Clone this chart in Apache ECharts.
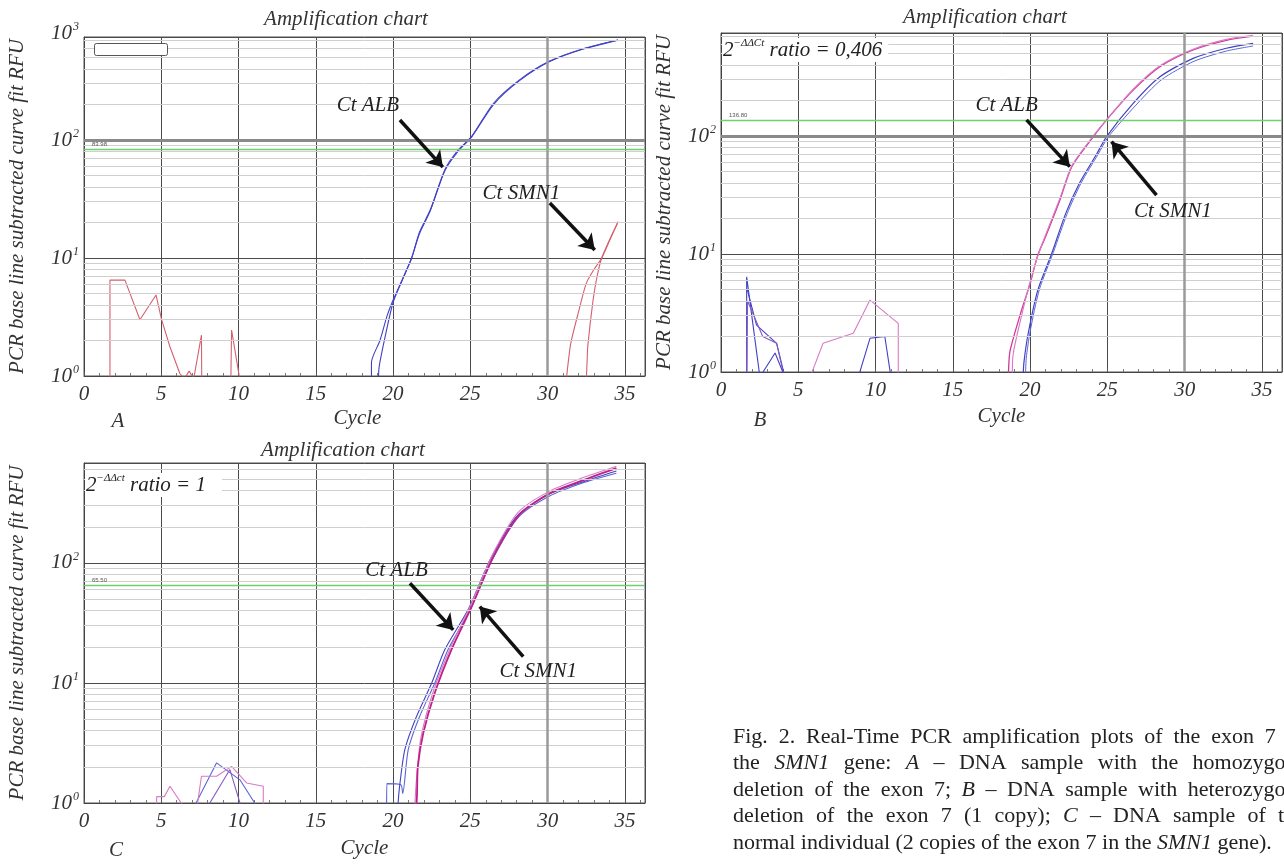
<!DOCTYPE html>
<html><head><meta charset="utf-8">
<script src="https://cdn.jsdelivr.net/npm/echarts@6/dist/echarts.min.js"></script>
<style>html,body{margin:0;padding:0;background:#fff}#c{width:1284px;height:864px}</style>
</head><body><div id="c"></div>
<script>
// ---------- data ----------
const xTicks = [0, 5, 10, 15, 20, 25, 30, 35];
const yTickExp = { 1: '0', 10: '1', 100: '2' };
const minorLevels = [2, 3, 4, 5, 6, 7, 8, 9, 20, 30, 40, 50, 60, 70, 80, 90, 200, 300, 400, 500, 600, 700];
const thresholdA = 83.98, thresholdB = 136.80, thresholdC = 65.50;
const yMaxA = 747, yMaxB = 747, yMaxC = 681;
const xMax = 36.3;

// Panel A – ALB (blue), SMN1 (red), background noise
const A_ALB1 = [[18.6,0.9],[18.6,1.3],[19.15,2.0],[19.6,3.2],[20.0,4.4],[20.6,6.6],[21.2,10],[21.7,16],[22.4,25],[23.35,55],[24.2,80],[25.1,107],[26.5,200],[28.2,320],[30.1,460],[32.3,590],[34.56,703]];
const A_ALB2 = [[19.05,0.9],[19.1,1.2],[19.5,2.2],[20.0,4.2],[20.6,6.5],[21.2,10],[21.7,16.5],[22.4,25.5],[23.35,56],[24.2,82],[25.1,108],[26.5,205],[28.2,325],[30.1,465],[32.3,595],[34.56,705]];
const A_SMN1a = [[31.2,0.9],[31.3,1.2],[31.5,1.9],[32.0,3.5],[32.5,6.1],[33.0,8.0],[33.5,10],[34.0,14],[34.56,20.3]];
const A_SMN1b = [[32.5,0.9],[32.55,1.3],[32.6,1.8],[32.94,4.4],[33.2,7],[33.5,10],[34.0,14.2],[34.56,20.3]];
const A_noise = [[1.68,0.9],[1.68,6.5],[2.65,6.5],[3.62,3.0],[4.66,4.86],[5.02,3.0],[5.56,1.77],[6.2,1.05],[6.5,0.95],[6.8,1.1],[7.1,0.95],[7.6,2.22],[7.62,0.9],[9.5,0.9],[9.55,2.45],[10.1,0.9]];

// Panel B – ALB (pink), SMN1 (blue), noise
const B_ALB1 = [[18.58,0.9],[18.6,1.0],[18.7,1.5],[19.45,3.35],[20.0,5.6],[20.5,9.8],[21.0,14],[21.9,28],[22.7,55],[24.0,95],[24.95,137],[26.67,245],[28.4,387],[30.55,537],[32.7,648],[34.43,703]];
const B_ALB2 = [[18.85,0.9],[18.9,1.4],[19.5,3.2],[20.0,5.8],[20.5,9.6],[21.0,14.5],[21.9,29],[22.7,56],[24.0,97],[24.95,138],[26.67,250],[28.4,395],[30.55,545],[32.7,660],[34.43,715]];
const B_SMN1a = [[19.55,0.9],[19.6,1.2],[19.88,2.13],[20.5,4.95],[21.4,10.1],[22.3,22],[23.2,40],[24.3,70],[24.95,99],[26.67,189],[28.4,318],[30.55,455],[32.7,555],[34.43,611]];
const B_SMN1b = [[19.7,0.9],[19.75,1.3],[20.0,2.2],[20.6,5.0],[21.5,10.3],[22.4,22],[23.3,40],[24.4,70],[25.05,98],[26.8,180],[28.5,300],[30.6,430],[32.7,525],[34.43,580]];
const B_noise1 = [[1.66,0.9],[1.66,6.4],[2.52,0.9]];
const B_noise2 = [[1.7,5.0],[2.3,2.5],[3.6,1.75],[4.14,0.9]];
const B_noise3 = [[1.68,0.9],[1.72,4.0],[2.7,2.0],[3.6,1.75],[4.1,0.9]];
const B_noise4 = [[2.5,0.9],[3.5,1.45],[4.14,0.9]];
const B_noisePink = [[5.76,0.9],[6.6,1.75],[8.56,2.13],[9.64,4.07],[11.47,2.58],[11.47,0.9]];
const B_noiseBlue = [[8.88,0.9],[9.64,1.93],[10.6,2.0],[11.0,0.9]];

// Panel C – ALB (magenta/pink), SMN1 (blue), noise
const C_ALB1 = [[21.5,0.9],[21.55,1.2],[21.6,2.0],[21.95,3.8],[22.7,8.3],[23.78,19],[25.08,43],[26.47,112],[28.2,255],[30.14,380],[32.5,500],[34.45,617]];
const C_ALB2 = [[21.4,0.9],[21.5,1.5],[21.8,3.5],[22.6,8.5],[23.7,19.5],[25.0,44],[26.4,115],[28.1,265],[30.1,395],[32.4,520],[34.45,640]];
const C_SMN1a = [[19.58,0.9],[19.6,1.45],[20.5,1.42],[20.62,1.2],[20.98,2.78],[21.7,5.2],[22.7,10],[23.56,19],[25.0,41],[26.4,105],[28.1,240],[30.1,360],[32.4,470],[34.45,560]];
const C_SMN1b = [[20.3,0.9],[20.4,1.3],[20.76,2.78],[21.5,5.2],[22.5,10],[23.35,19],[24.9,42],[26.3,108],[28.0,245],[30.0,370],[32.4,480],[34.45,585]];
const C_noise1 = [[4.7,0.9],[4.7,1.13],[5.2,1.13],[5.56,1.38],[6.53,0.9]];
const C_noise2 = [[7.07,0.9],[8.58,2.16],[10.09,1.56],[11.27,0.9]];
const C_noise3 = [[7.3,0.9],[7.6,1.67],[8.58,1.67],[9.55,2.02],[10.52,1.47],[11.6,1.38],[11.6,0.9]];
const C_noise4 = [[7.93,0.9],[9.44,1.9],[10.2,0.9]];

// annotation anchors (data coordinates)
const A_ann = { albText:[18.37,198], albFrom:[20.44,147.7], albTo:[23.22,59], smnText:[28.3,35.5], smnFrom:[30.14,29.3], smnTo:[33.05,11.7] };
const B_ann = { albText:[18.48,183], albFrom:[19.77,137], albTo:[22.57,55], smnText:[29.24,22.8], smnFrom:[28.18,31.6], smnTo:[25.27,89.5] };
const C_ann = { albText:[20.22,87.4], albFrom:[21.09,67.7], albTo:[23.89,27.7], smnText:[29.39,12.4], smnFrom:[28.42,16.6], smnTo:[25.61,43.3] };

const captionLines = [
  'Fig. 2. Real-Time PCR amplification plots of the exon 7 of',
  'the *SMN1* gene: *A* – DNA sample with the homozygous',
  'deletion of the exon 7; *B* – DNA sample with heterozygous',
  'deletion of the exon 7 (1 copy); *C* – DNA sample of the',
  'normal individual (2 copies of the exon 7 in the *SMN1* gene).'
];

// ---------- styling ----------
const SERIF = 'Liberation Serif, Times New Roman, serif';
const FS = 21;
const C_BLUE = '#4141c6', C_RED = '#d4606e', C_PINK = '#d2389a', C_MAG = '#c21e88', C_LPINK = '#d77ac6', C_BLUE2 = '#5a66d4';
const grids = [
  { left: 84, top: 37, width: 561, height: 339 },
  { left: 721, top: 33, width: 561, height: 339 },
  { left: 84, top: 463, width: 561, height: 340 }
];
const yMaxes = [yMaxA, yMaxB, yMaxC];
const yNameGaps = [56, 46, 56];
const xNameGaps = [32, 34, 35];
const xNamePads = [[0, 14, 0, 0], [0, 0, 0, 0], [0, 0, 0, 0]];
const supRich = {
  b: { fontFamily: SERIF, fontStyle: 'italic', fontSize: FS, color: '#333', fill: '#333', lineHeight: 24 },
  s: { fontFamily: SERIF, fontStyle: 'italic', fontSize: 12, color: '#333', fill: '#333', lineHeight: 24, verticalAlign: 'top', padding: [0, 0, 9, 1] }
};

function xAxisFor(i) {
  return {
    type: 'value', gridIndex: i, min: 0, max: xMax, interval: 5,
    name: 'Cycle', nameLocation: 'middle', nameGap: xNameGaps[i],
    nameTextStyle: { fontFamily: SERIF, fontStyle: 'italic', fontSize: FS, color: '#333', padding: xNamePads[i] },
    axisLine: { show: true, lineStyle: { color: '#444', width: 1 } },
    axisTick: { show: true, inside: true, length: 4, lineStyle: { color: '#555' } },
    minorTick: { show: true, splitNumber: 5, length: 3, lineStyle: { color: '#777' } },
    axisLabel: { fontFamily: SERIF, fontStyle: 'italic', fontSize: FS, color: '#333', margin: 8, showMaxLabel: false,
      formatter: v => xTicks.indexOf(v) >= 0 ? String(v) : '' },
    splitLine: { show: true, lineStyle: { color: '#4a4a4a', width: 1 } }
  };
}
function yAxisFor(i) {
  return {
    type: 'log', logBase: 10, gridIndex: i, min: 1, max: yMaxes[i],
    name: 'PCR base line subtracted curve fit RFU', nameLocation: 'middle', nameRotate: 90, nameGap: yNameGaps[i],
    nameTextStyle: { fontFamily: SERIF, fontStyle: 'italic', fontSize: FS, color: '#333' },
    axisLine: { show: true, lineStyle: { color: '#444' } },
    axisTick: { show: false },
    axisLabel: { margin: 5, showMaxLabel: false, rich: supRich,
      formatter: v => { const e = yTickExp[Math.round(v)]; return e ? '{b|10}{s|' + e + '}' : ''; } },
    splitLine: { show: true, lineStyle: { color: '#4a4a4a', width: 1 } }
  };
}

function line(data, color, i, width, smooth) {
  return { type: 'line', data: data, xAxisIndex: i, yAxisIndex: i, showSymbol: false, symbol: 'none', smooth: smooth || false,
    lineStyle: { color: color, width: width || 1.2 }, itemStyle: { color: color }, clip: true, z: 3, silent: true, animation: false };
}

function decor(i, threshold, thick100) {
  const minorData = minorLevels.filter(v => v < yMaxes[i]).map(v => ({ yAxis: v }));
  const extra = [{ xAxis: 30, lineStyle: { color: '#9a9a9a', width: 2.5 } }];
  if (thick100) extra.push({ yAxis: 100, lineStyle: { color: '#8a8a8a', width: 3 } });
  return [
    { type: 'line', data: [], xAxisIndex: i, yAxisIndex: i, z: 1, silent: true, animation: false,
      markLine: { silent: true, symbol: 'none', animation: false, label: { show: false },
        lineStyle: { color: '#cfcfcf', width: 1, type: 'solid' }, data: minorData.concat(extra) } },
    { type: 'line', data: [], xAxisIndex: i, yAxisIndex: i, z: 2, silent: true, animation: false,
      markLine: { silent: true, symbol: 'none', animation: false,
        lineStyle: { color: '#6fcf6f', width: 1.4, type: 'solid' },
        label: { show: true, position: 'insideStartTop', formatter: threshold.toFixed(2), fontSize: 6, color: '#555', distance: [8, 2] },
        data: [{ yAxis: threshold }] } }
  ];
}

function annotations(i, ann) {
  const lbl = { show: true, position: 'inside', fontFamily: SERIF, fontStyle: 'italic', fontSize: FS, color: '#222', formatter: '{b}' };
  return { type: 'line', data: [], xAxisIndex: i, yAxisIndex: i, z: 10, silent: true, animation: false,
    markLine: { silent: true, animation: false, symbol: ['none', 'arrow'], symbolSize: 15, label: { show: false },
      lineStyle: { color: '#111', width: 3.5, type: 'solid' },
      data: [[{ coord: ann.albFrom }, { coord: ann.albTo }], [{ coord: ann.smnFrom }, { coord: ann.smnTo }]] },
    markPoint: { silent: true, animation: false, symbol: 'circle', symbolSize: 1, itemStyle: { color: 'rgba(0,0,0,0)' }, label: lbl,
      data: [{ name: 'Ct ALB', coord: ann.albText }, { name: 'Ct SMN1', coord: ann.smnText }] } };
}

const SM = 0.25;
const series = [].concat(
  decor(0, thresholdA, true), decor(1, thresholdB, true), decor(2, thresholdC, false),
  [
    line(A_noise, C_RED, 0, 1.1), line(A_SMN1a, C_RED, 0, 1.1, SM), line(A_SMN1b, C_RED, 0, 1.1, SM),
    line(A_ALB1, C_BLUE, 0, 1.1, SM), line(A_ALB2, C_BLUE, 0, 1.1, SM),
    line(B_noise1, C_BLUE, 1, 1.1), line(B_noise2, C_BLUE, 1, 1.1), line(B_noise3, '#8a5ac0', 1, 1.1), line(B_noise4, C_BLUE, 1, 1.1),
    line(B_noisePink, C_LPINK, 1, 1.1), line(B_noiseBlue, C_BLUE, 1, 1.1),
    line(B_SMN1a, C_BLUE, 1, 1.2, SM), line(B_SMN1b, C_BLUE2, 1, 1.0, SM), line(B_ALB1, C_PINK, 1, 1.3, SM), line(B_ALB2, C_LPINK, 1, 1.1, SM),
    line(C_noise1, C_LPINK, 2, 1.1), line(C_noise2, C_BLUE2, 2, 1.1), line(C_noise3, C_LPINK, 2, 1.1), line(C_noise4, '#8a5ac0', 2, 1.1),
    line(C_SMN1a, C_BLUE2, 2, 1.1, SM), line(C_SMN1b, C_BLUE, 2, 1.1, SM), line(C_ALB2, C_LPINK, 2, 1.1, SM), line(C_ALB1, C_MAG, 2, 1.8, SM)
  ],
  [annotations(0, A_ann), annotations(1, B_ann), annotations(2, C_ann)]
);

// ---------- caption (justified text layout) ----------
const CAP_FS = 22, CAP_X = 733, CAP_Y = 737, CAP_LH = 26.5, CAP_W = 572;
const mctx = document.createElement('canvas').getContext('2d');
function measure(t, it) { mctx.font = (it ? 'italic ' : '') + CAP_FS + 'px "Liberation Serif"'; return mctx.measureText(t).width; }
const captionGraphics = captionLines.map((ln, k) => {
  const words = ln.split(' ').map(w => { const it = /^\*.*\*/.test(w); return { t: w.replace(/\*/g, ''), it: it }; });
  const wordsW = words.reduce((s, w) => s + measure(w.t, w.it), 0);
  const last = k === captionLines.length - 1;
  const gap = last ? measure(' ', false) : (CAP_W - wordsW) / (words.length - 1);
  const rich = {
    r: { fontFamily: SERIF, fontSize: CAP_FS, fill: '#222' },
    i: { fontFamily: SERIF, fontStyle: 'italic', fontSize: CAP_FS, fill: '#222' },
    g: { fontFamily: SERIF, fontSize: CAP_FS, width: gap }
  };
  const text = words.map(w => '{' + (w.it ? 'i' : 'r') + '|' + w.t + '}').join('{g| }');
  return { type: 'text', x: CAP_X, y: CAP_Y + k * CAP_LH, style: { text: text, rich: rich, verticalAlign: 'middle', align: 'left' } };
});

const titleStyle = { fontFamily: SERIF, fontStyle: 'italic', fontSize: FS, fill: '#333', align: 'center', verticalAlign: 'middle' };
const ratioRich = {
  n: { fontFamily: SERIF, fontStyle: 'italic', fontSize: FS, fill: '#222', lineHeight: 24 },
  s: { fontFamily: SERIF, fontStyle: 'italic', fontSize: 11, fill: '#222', lineHeight: 24, verticalAlign: 'top', padding: [0, 0, 10, 0] }
};
const lblStyle = (t, x, y) => ({ type: 'text', x: x, y: y, style: { text: t, fontFamily: SERIF, fontStyle: 'italic', fontSize: FS, fill: '#333', align: 'center', verticalAlign: 'middle' } });

const graphic = [
  { type: 'text', x: 346, y: 19, style: Object.assign({ text: 'Amplification chart' }, titleStyle) },
  { type: 'text', x: 985, y: 17, style: Object.assign({ text: 'Amplification chart' }, titleStyle) },
  { type: 'text', x: 343, y: 450, style: Object.assign({ text: 'Amplification chart' }, titleStyle) },
  { type: 'text', x: 79, y: 33, style: { text: '{b|10}{s|3}', rich: supRich, align: 'right', verticalAlign: 'middle' } },
  lblStyle('A', 118, 421), lblStyle('B', 760, 420), lblStyle('C', 116, 850),
  { type: 'rect', z: 100, shape: { x: 94.5, y: 43.5, width: 73, height: 12, r: 2 }, style: { fill: '#fff', stroke: '#555', lineWidth: 1 } },
  { type: 'text', z: 100, x: 722, y: 50, style: { text: '{n|2}{s|−ΔΔCt}{n| ratio = 0,406}', rich: ratioRich, backgroundColor: '#fff', padding: [0, 6, 0, 1], verticalAlign: 'middle' } },
  { type: 'text', z: 100, x: 85, y: 485, style: { text: '{n|2}{s|−ΔΔct}{n| ratio = 1}', rich: ratioRich, backgroundColor: '#fff', padding: [0, 16, 0, 1], verticalAlign: 'middle' } }
].concat(captionGraphics);

const chart = echarts.init(document.getElementById('c'), null, { renderer: 'canvas' });
chart.setOption({
  animation: false,
  backgroundColor: '#fff',
  grid: grids.map(g => Object.assign({ show: true, borderColor: '#555', borderWidth: 1, backgroundColor: 'transparent', containLabel: false }, g)),
  xAxis: [0, 1, 2].map(xAxisFor),
  yAxis: [0, 1, 2].map(yAxisFor),
  series: series,
  graphic: graphic
});
</script></body></html>
